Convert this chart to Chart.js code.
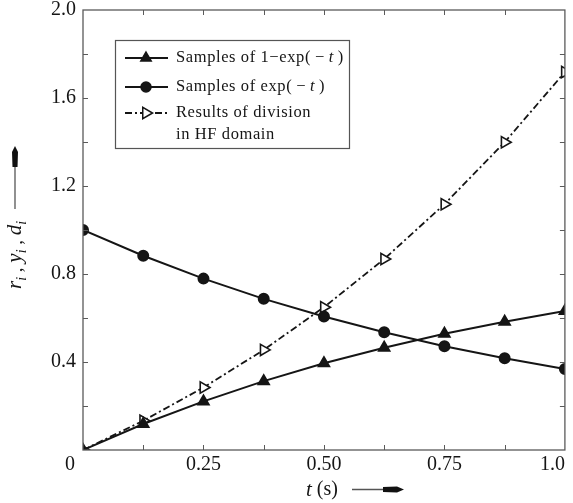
<!DOCTYPE html>
<html><head><meta charset="utf-8">
<script src="https://cdn.jsdelivr.net/npm/chart.js@4/dist/chart.umd.min.js"></script>
<style>html,body{margin:0;padding:0;background:#fff}#wrap{width:573px;height:503px}</style>
</head><body><div id="wrap"><canvas id="c" width="573" height="503"></canvas></div>
<script>
const tValues = [0, 0.125, 0.25, 0.375, 0.5, 0.625, 0.75, 0.875, 1.0];
const oneMinusExp = [0, 0.118, 0.221, 0.313, 0.394, 0.465, 0.528, 0.583, 0.632];
const expNeg = [1.0, 0.883, 0.779, 0.687, 0.607, 0.535, 0.472, 0.417, 0.368];
const division = [0, 0.133, 0.284, 0.455, 0.649, 0.868, 1.117, 1.399, 1.718];
const xTickValues = [0, 0.25, 0.5, 0.75, 1.0];
const xTickLabels = ['0', '0.25', '0.50', '0.75', '1.0'];
const yTickValues = [0, 0.4, 0.8, 1.2, 1.6, 2.0];
const yTickLabels = ['0', '0.4', '0.8', '1.2', '1.6', '2.0'];
// legend rows: segments [text, italic]
const legendLabels = [
  [[['Samples of 1\u2212exp(\u2009\u2212\u2009',false],['t',true],['\u2009)',false]]],
  [[['Samples of exp(\u2009\u2212\u2009',false],['t',true],['\u2009)',false]]],
  [[['Results of division',false]],[['in HF domain',false]]]
];

const FONT = '"Liberation Serif", "DejaVu Serif", serif';
const ink = '#151515';
const axisCol = '#5a5a5a';

function pts(ys){ return tValues.map((t,i)=>({x:t,y:ys[i]})); }
function plain(lines){ return lines.map(l=>l.map(s=>s[0]).join('')).join(' '); }

const deco = {
  id:'deco',
  afterDraw(chart){
    const ctx = chart.ctx, a = chart.chartArea, xs = chart.scales.x, ys = chart.scales.y;
    ctx.save();
    // frame
    ctx.strokeStyle = axisCol; ctx.lineWidth = 1.3;
    ctx.strokeRect(a.left, a.top, a.right-a.left, a.bottom-a.top);
    // inward ticks
    ctx.lineWidth = 1;
    for (let v=0.125; v<1; v+=0.125){
      const px = Math.round(xs.getPixelForValue(v))+0.5;
      ctx.beginPath(); ctx.moveTo(px,a.bottom); ctx.lineTo(px,a.bottom-5);
      ctx.moveTo(px,a.top); ctx.lineTo(px,a.top+5); ctx.stroke();
    }
    for (let v=0.2; v<1.99; v+=0.2){
      const py = Math.round(ys.getPixelForValue(v))+0.5;
      ctx.beginPath(); ctx.moveTo(a.left,py); ctx.lineTo(a.left+5,py);
      ctx.moveTo(a.right,py); ctx.lineTo(a.right-5,py); ctx.stroke();
    }
    // shared origin label
    ctx.fillStyle=ink; ctx.font='20px '+FONT; ctx.textAlign='center'; ctx.textBaseline='middle';
    ctx.fillText(xTickLabels[0], a.left-13, a.bottom+15);
    // legend box
    const bx=115, by=40, bw=234, bh=108;
    ctx.fillStyle='#fff'; ctx.fillRect(bx,by,bw,bh);
    ctx.strokeStyle='#555'; ctx.lineWidth=1.2; ctx.strokeRect(bx+0.5,by+0.5,bw,bh);
    const rows=[58,87,113];
    chart.data.datasets.forEach((ds,i)=>{
      const y=rows[i];
      ctx.strokeStyle=ink; ctx.lineWidth=1.8;
      ctx.setLineDash(ds.borderDash||[]);
      ctx.beginPath(); ctx.moveTo(125,y); ctx.lineTo(168,y); ctx.stroke();
      ctx.setLineDash([]);
      ctx.fillStyle = ds.pointBackgroundColor; ctx.strokeStyle=ink; ctx.lineWidth=1.5;
      Chart.helpers.drawPoint(ctx,{pointStyle:ds.pointStyle,radius:ds.pointRadius,rotation:ds.pointRotation||0,borderWidth:1.5},146,y);
      ctx.fillStyle=ink; ctx.textBaseline='middle'; ctx.textAlign='left';
      ctx.letterSpacing='0.6px';
      legendLabels[i].forEach((line,k)=>{
        let lx=176;
        line.forEach(([txt,it])=>{
          ctx.font=(it?'italic ':'')+'16.5px '+FONT;
          ctx.fillText(txt,lx,y+k*22); lx+=ctx.measureText(txt).width;
        });
      });
      ctx.letterSpacing='0px';
    });
    // y axis title (rotated)
    ctx.save();
    ctx.translate(15, 289); ctx.rotate(-Math.PI/2);
    ctx.fillStyle=ink; ctx.textBaseline='middle'; ctx.textAlign='left';
    let x=0;
    const parts=[['r','i'],[' , ',''],['y','i'],[' , ',''],['d','i']];
    parts.forEach(([m,s])=>{
      if(s){ ctx.font='italic 21px '+FONT; ctx.fillText(m,x,0); x+=ctx.measureText(m).width;
        ctx.font='italic 14px '+FONT; ctx.fillText(s,x,7); x+=ctx.measureText(s).width; }
      else { ctx.font='19px '+FONT; ctx.fillText(m,x,2); x+=ctx.measureText(m).width; }
    });
    // arrow: line then narrow head, tip at ~y=146
    const tip = 289-146;
    ctx.strokeStyle='#555'; ctx.lineWidth=1.3;
    ctx.beginPath(); ctx.moveTo(Math.max(x+3, 80),0); ctx.lineTo(tip-10,0); ctx.stroke();
    ctx.fillStyle='#111';
    ctx.beginPath(); ctx.moveTo(tip-21,-2.5); ctx.lineTo(tip-6,-3); ctx.lineTo(tip,0); ctx.lineTo(tip-6,3); ctx.lineTo(tip-21,2.5); ctx.closePath(); ctx.fill();
    ctx.restore();
    // x axis title
    ctx.fillStyle=ink; ctx.textBaseline='middle'; ctx.textAlign='left';
    ctx.font='italic 21px '+FONT; ctx.fillText('t',306,490);
    let tw=ctx.measureText('t').width;
    ctx.font='20px '+FONT; ctx.fillText(' (s)',306+tw,490);
    ctx.strokeStyle='#555'; ctx.lineWidth=1.3;
    ctx.beginPath(); ctx.moveTo(352,489.5); ctx.lineTo(392,489.5); ctx.stroke();
    ctx.fillStyle='#111';
    ctx.beginPath(); ctx.moveTo(383,487); ctx.lineTo(397,486.5); ctx.lineTo(404,489.5); ctx.lineTo(397,492.5); ctx.lineTo(383,492); ctx.closePath(); ctx.fill();
    ctx.restore();
  }
};

new Chart(document.getElementById('c'), {
  type:'scatter',
  data:{ datasets:[
    {label:plain(legendLabels[0]), data:pts(oneMinusExp), showLine:true, borderColor:ink, borderWidth:2,
     pointStyle:'triangle', pointRadius:6, pointBackgroundColor:ink, pointBorderColor:ink},
    {label:plain(legendLabels[1]), data:pts(expNeg), showLine:true, borderColor:ink, borderWidth:2,
     pointStyle:'circle', pointRadius:5, pointBackgroundColor:ink, pointBorderColor:ink},
    {label:plain(legendLabels[2]), data:pts(division), showLine:true, borderColor:ink, borderWidth:1.8,
     borderDash:[7,3,2,3], pointStyle:'triangle', pointRotation:90, pointRadius:6.5,
     pointBackgroundColor:'#fff', pointBorderColor:ink, pointBorderWidth:1.6}
  ]},
  options:{
    responsive:false, animation:false, devicePixelRatio:1,
    layout:{padding:{left:0, top:10, right:8, bottom:0}},
    plugins:{legend:{display:false}, tooltip:{enabled:false}},
    scales:{
      x:{type:'linear', min:0, max:1, border:{display:false},
         grid:{display:false, drawTicks:false, tickLength:0},
         afterBuildTicks(s){ s.ticks = xTickValues.map(v=>({value:v})); },
         afterFit(s){ s.height = 53; s.paddingLeft = 0; s.paddingRight = 0; },
         ticks:{color:ink, font:{family:FONT, size:20}, padding:3, maxRotation:0, align:'inner',
           callback:(v)=>{ const i = xTickValues.indexOf(v); return i===0 ? '' : xTickLabels[i]; } }},
      y:{type:'linear', min:0, max:2, border:{display:false},
         grid:{display:false, drawTicks:false, tickLength:0},
         afterBuildTicks(s){ s.ticks = yTickValues.map(v=>({value:v})); },
         afterFit(s){ s.width = 83; s.paddingTop = 0; s.paddingBottom = 0; },
         ticks:{color:ink, font:{family:FONT, size:20}, padding:7,
           callback:(v)=>{ const i = yTickValues.findIndex(t=>Math.abs(t-v)<1e-6); return i===0 ? '' : yTickLabels[i]; } }}
    }
  },
  plugins:[deco]
});
</script></body></html>
